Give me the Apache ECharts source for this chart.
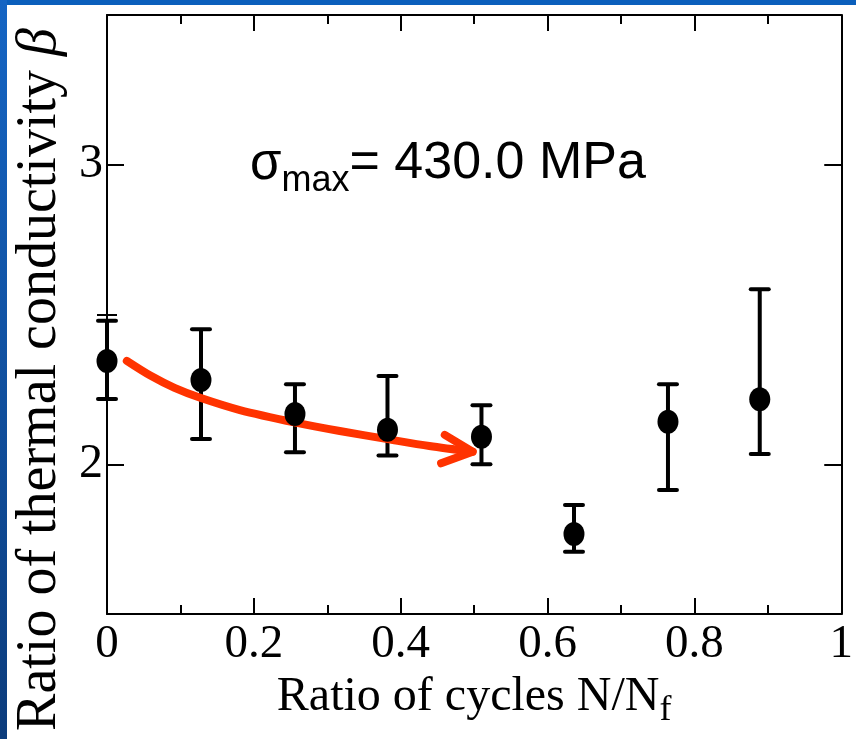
<!DOCTYPE html>
<html>
<head>
<meta charset="utf-8">
<script src="https://cdn.jsdelivr.net/npm/echarts@6/dist/echarts.min.js"></script>
<style>
  html, body { margin: 0; padding: 0; background: #ffffff; }
  #chart { width: 856px; height: 739px; }
</style>
</head>
<body>
<div id="chart"></div>
<script>
// ---- data ----
const cycleRatio = [0, 0.128, 0.256, 0.382, 0.510, 0.636, 0.764, 0.889];
const betaMean   = [2.345, 2.281, 2.168, 2.115, 2.092, 1.767, 2.142, 2.217];
const betaUpper  = [2.479, 2.451, 2.267, 2.295, 2.197, 1.864, 2.267, 2.584];
const betaLower  = [2.218, 2.084, 2.040, 2.029, 2.000, 1.708, 1.914, 2.034];

// trend arrow (annotation) in data units
const arrowCurveX = [0.027, 0.059, 0.092, 0.127, 0.181, 0.257, 0.317, 0.382, 0.439, 0.498];
const arrowCurveY = [2.345, 2.296, 2.255, 2.222, 2.181, 2.139, 2.111, 2.084, 2.061, 2.042];
const arrowHeadX  = [0.460, 0.498, 0.455];
const arrowHeadY  = [2.098, 2.042, 2.003];

const xTickValues = [0, 0.2, 0.4, 0.6, 0.8, 1];
const yMajorTicks = [2, 3];
const yMinorTicks = [2.5];

const xTitle = 'Ratio of cycles N/N';
const xTitleSub = 'f';
const yTitle = 'Ratio of thermal conductivity ';
const yTitleSym = 'β';
const noteSym = 'σ';
const noteSub = 'max';
const noteMain = '= 430.0 MPa';

// ---- chart ----
const chart = echarts.init(document.getElementById('chart'), null, { renderer: 'canvas' });
const serif = 'Liberation Serif, Times New Roman, serif';
const sans = 'Liberation Sans, Arial, Helvetica, sans-serif';
const black = '#000000';
const red = '#ff3300';

const axisLine = { show: true, onZero: false, lineStyle: { color: black, width: 2 } };

function xAxisCfg(pos, labels) {
  return {
    type: 'value', position: pos, min: xTickValues[0], max: xTickValues[xTickValues.length - 1],
    interval: 0.2,
    axisLine: axisLine,
    axisTick: { show: true, inside: true, length: 16, lineStyle: { color: black, width: 2 } },
    minorTick: { show: true, splitNumber: 2, length: 9, lineStyle: { color: black, width: 2 } },
    splitLine: { show: false }, minorSplitLine: { show: false },
    axisLabel: labels ? { show: true, fontFamily: serif, fontSize: 47, color: black, margin: 7 } : { show: false }
  };
}
function yAxisCfg(pos, ticks, len, showLine, labels) {
  return {
    type: 'value', position: pos, min: 1.5, max: 3.5,
    axisLine: showLine ? axisLine : { show: false },
    axisTick: { show: true, inside: true, length: len, customValues: ticks, lineStyle: { color: black, width: 2 } },
    splitLine: { show: false },
    axisLabel: labels ? { show: true, customValues: ticks, fontFamily: serif, fontSize: 48, color: black, margin: 4 } : { show: false }
  };
}

const xMain = xAxisCfg('bottom', true);
xMain.name = '{t|' + xTitle + '}{s|' + xTitleSub + '}';
xMain.nameLocation = 'middle';
xMain.nameGap = 66;
xMain.nameTextStyle = {
  rich: {
    t: { fontFamily: serif, fontSize: 48, lineHeight: 48, color: black, verticalAlign: 'bottom', padding: [0, 0, 8, 0] },
    s: { fontFamily: serif, fontSize: 36, lineHeight: 36, color: black, verticalAlign: 'bottom' }
  }
};

const yMain = yAxisCfg('left', yMajorTicks, 17, true, true);
yMain.name = '{t|' + yTitle + '}{b|' + yTitleSym + '}';
yMain.nameLocation = 'middle';
yMain.nameGap = 39;
yMain.nameTextStyle = {
  padding: [0, 130, 0, 0],
  rich: {
    t: { fontFamily: serif, fontSize: 56, color: black },
    b: { fontFamily: serif, fontSize: 56, fontStyle: 'italic', color: black }
  }
};

const errData = cycleRatio.map((x, i) => [x, betaLower[i], betaUpper[i]]);
const meanData = cycleRatio.map((x, i) => [x, betaMean[i]]);
const curveData = arrowCurveX.map((x, i) => [x, arrowCurveY[i]]);
const headData = arrowHeadX.map((x, i) => [x, arrowHeadY[i]]);

const option = {
  animation: false,
  backgroundColor: '#ffffff',
  grid: { left: 107, right: 14, top: 15, bottom: 125, containLabel: false },
  xAxis: [xMain, xAxisCfg('top', false)],
  yAxis: [
    yMain,
    yAxisCfg('left', yMinorTicks, 10, false, false),
    yAxisCfg('right', yMajorTicks, 17, true, false),
    yAxisCfg('right', yMinorTicks, 10, false, false)
  ],
  graphic: [
    { type: 'rect', silent: true, z: 100, shape: { x: 0, y: 0, width: 856, height: 5 },
      style: { fill: '#0b5fbc' } },
    { type: 'rect', silent: true, z: 100, shape: { x: 0, y: 0, width: 7, height: 739 },
      style: { fill: new echarts.graphic.LinearGradient(0, 0, 0, 1, [
        { offset: 0, color: '#1565c4' }, { offset: 1, color: '#0c3c7c' }]) } },
    { type: 'text', silent: true, z: 50, x: 250, y: 199,
      style: {
        text: '{s|' + noteSym + '}{m|' + noteSub + '}{e|' + noteMain + '}',
        verticalAlign: 'bottom', align: 'left',
        rich: {
          s: { fontFamily: sans, fontSize: 51, lineHeight: 52, fill: black, verticalAlign: 'bottom', padding: [0, 0, 9, 0] },
          m: { fontFamily: sans, fontSize: 36, lineHeight: 36, fill: black, verticalAlign: 'bottom' },
          e: { fontFamily: sans, fontSize: 52, lineHeight: 52, fill: black, verticalAlign: 'bottom', padding: [0, 0, 9, 0] }
        }
      } }
  ],
  series: [
    {
      type: 'custom', name: 'error', xAxisIndex: 0, yAxisIndex: 0, clip: false, z: 2,
      data: errData,
      renderItem: function (params, api) {
        const x = api.value(0);
        const lo = api.coord([x, api.value(1)]);
        const hi = api.coord([x, api.value(2)]);
        const hw = 9;
        const st = { stroke: black, lineWidth: 4, lineCap: 'round' };
        return {
          type: 'group',
          children: [
            { type: 'line', shape: { x1: hi[0], y1: hi[1], x2: lo[0], y2: lo[1] }, style: { stroke: black, lineWidth: 4 } },
            { type: 'line', shape: { x1: hi[0] - hw, y1: hi[1], x2: hi[0] + hw, y2: hi[1] }, style: st },
            { type: 'line', shape: { x1: lo[0] - hw, y1: lo[1], x2: lo[0] + hw, y2: lo[1] }, style: st }
          ]
        };
      }
    },
    {
      type: 'line', name: 'trend', xAxisIndex: 0, yAxisIndex: 0, z: 3, clip: false,
      data: curveData, smooth: 0.3, symbol: 'none',
      lineStyle: { color: red, width: 8, cap: 'round', join: 'round' }
    },
    {
      type: 'line', name: 'trendHead', xAxisIndex: 0, yAxisIndex: 0, z: 3, clip: false,
      data: headData, symbol: 'none',
      lineStyle: { color: red, width: 8, cap: 'round', join: 'round' }
    },
    {
      type: 'scatter', name: 'beta', xAxisIndex: 0, yAxisIndex: 0, z: 4, clip: false,
      data: meanData, symbol: 'circle', symbolSize: [21, 24],
      itemStyle: { color: black, opacity: 1 }
    }
  ]
};
chart.setOption(option);
</script>
</body>
</html>
